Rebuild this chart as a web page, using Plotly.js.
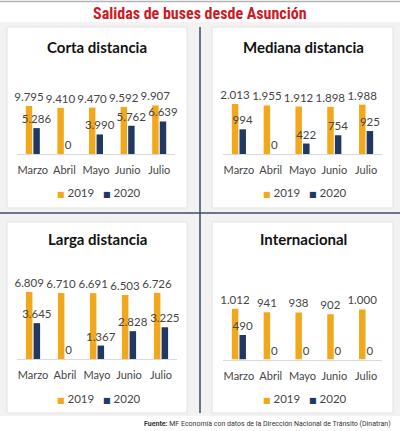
<!DOCTYPE html>
<html>
<head>
<meta charset="utf-8">
<script src="https://cdn.plot.ly/plotly-3.0.1.min.js"></script>
<style>
html,body{margin:0;padding:0;background:#fff;}
#chart{width:400px;height:431px;}
</style>
</head>
<body>
<div id="chart"></div>
<script>
// ---- data ----
const months = ['Marzo', 'Abril', 'Mayo', 'Junio', 'Julio'];
const seriesNames = ['2019', '2020'];
const panelTitles = ['Corta distancia', 'Mediana distancia', 'Larga distancia', 'Internacional'];
const corta2019 = [9795, 9410, 9470, 9592, 9907];
const corta2020 = [5286, 0, 3990, 5762, 6639];
const mediana2019 = [2013, 1955, 1912, 1898, 1988];
const mediana2020 = [994, 0, 422, 754, 925];
const larga2019 = [6809, 6710, 6691, 6503, 6726];
const larga2020 = [3645, 0, 1367, 2828, 3225];
const inter2019 = [1012, 941, 938, 902, 1000];
const inter2020 = [490, 0, 0, 0, 0];
const mainTitle = 'Salidas de buses desde Asunción';
const sourceNote = '<b>Fuente:</b> MF Economía con datos de la Dirección Nacional de Tránsito (Dinatran)';

// ---- style ----
const colors = ['#f2a81d', '#1f3864'];
const W = 400, H = 431;
const X = px => px / W;
const Y = py => 1 - py / H;
const txtFont = 'Lato, "Open Sans", sans-serif';
const txtColor = '#454545';

const panels = [
  {s19: corta2019, s20: corta2020, xd: [17, 175], base: 154, top: 90, range: 13060, cx: 97, ty: 47, ly: 193},
  {s19: mediana2019, s20: mediana2020, xd: [223, 382], base: 154, top: 90, range: 2577, cx: 303, ty: 47, ly: 193},
  {s19: larga2019, s20: larga2020, xd: [17, 177], base: 359, top: 275, range: 8537, cx: 97, ty: 239, ly: 398},
  {s19: inter2019, s20: inter2020, xd: [223, 382], base: 359.5, top: 275, range: 1686, cx: 303, ty: 239, ly: 398}
];

const traces = [];
const layout = {
  width: W, height: H,
  margin: {l: 0, r: 0, t: 0, b: 0},
  paper_bgcolor: '#ffffff',
  plot_bgcolor: 'rgba(0,0,0,0)',
  showlegend: false,
  separators: ',.',
  barmode: 'group',
  bargap: 0.52,
  bargroupgap: 0.15,
  font: {family: txtFont, color: txtColor, size: 11},
  shapes: [],
  annotations: []
};

// background decoration
layout.shapes.push({type: 'rect', xref: 'paper', yref: 'paper', x0: 0, x1: 1, y0: Y(416), y1: Y(22), fillcolor: '#f2f2f2', line: {width: 0}, layer: 'below'});
layout.shapes.push({type: 'line', xref: 'paper', yref: 'paper', x0: 0, x1: 1, y0: Y(1.5), y1: Y(1.5), line: {color: '#b3b3b3', width: 1.5}, layer: 'below'});
const boxes = [[7, 27, 187, 208], [212, 27, 393, 208], [7, 222, 187, 413], [212, 222, 393, 413]];
boxes.forEach(b => layout.shapes.push({type: 'rect', xref: 'paper', yref: 'paper', x0: X(b[0]), x1: X(b[2]), y0: Y(b[3]), y1: Y(b[1]), fillcolor: '#ffffff', line: {color: '#e2e2e2', width: 1}, layer: 'below'}));
layout.shapes.push({type: 'line', xref: 'paper', yref: 'paper', x0: X(200), x1: X(200), y0: Y(413), y1: Y(27), line: {color: '#3d4b6b', width: 1.5}, layer: 'below'});
layout.shapes.push({type: 'line', xref: 'paper', yref: 'paper', x0: 0, x1: 1, y0: Y(213), y1: Y(213), line: {color: '#3d4b6b', width: 1.5}, layer: 'below'});

panels.forEach((p, i) => {
  const n = i === 0 ? '' : String(i + 1);
  const xa = 'x' + n, ya = 'y' + n;
  [p.s19, p.s20].forEach((vals, k) => {
    traces.push({
      type: 'bar', x: months, y: vals, name: seriesNames[k],
      xaxis: xa, yaxis: ya,
      marker: {color: colors[k]},
      texttemplate: '%{y:,.0f}', textposition: 'outside',
      constraintext: 'none', cliponaxis: false,
      textfont: {family: txtFont, size: 11.5, color: txtColor},
      hoverinfo: 'skip'
    });
  });
  layout['xaxis' + n] = {
    domain: [X(p.xd[0]), X(p.xd[1])], anchor: ya,
    showline: true, linecolor: '#d9d9d9', linewidth: 1,
    showgrid: false, zeroline: false, ticks: '',
    ticklabelstandoff: 6,
    tickfont: {family: txtFont, size: 11, color: txtColor},
    fixedrange: true
  };
  layout['yaxis' + n] = {
    domain: [Y(p.base), Y(p.top)], anchor: xa,
    range: [0, p.range], visible: false, fixedrange: true
  };
  layout.annotations.push({
    xref: 'paper', yref: 'paper', x: X(p.cx), y: Y(p.ty), xanchor: 'center', yanchor: 'middle',
    text: '<b>' + panelTitles[i] + '</b>', showarrow: false,
    font: {family: txtFont, size: 15, color: '#111111'}
  });
  const sq = c => '<span style="color:' + c + ';font-family:DejaVu Sans;font-size:8px">\u25A0</span>';
  layout.annotations.push({
    xref: 'paper', yref: 'paper', x: X(p.cx + 2), y: Y(p.ly), xanchor: 'center', yanchor: 'middle',
    text: sq(colors[0]) + '\u00a0' + seriesNames[0] + '\u00a0\u00a0\u00a0' + sq(colors[1]) + '\u00a0' + seriesNames[1],
    showarrow: false, font: {family: txtFont, size: 11.5, color: txtColor}
  });
});

layout.annotations.push({
  xref: 'paper', yref: 'paper', x: 0.5, y: Y(13.5), xanchor: 'center', yanchor: 'middle',
  text: '<b>' + mainTitle + '</b>', showarrow: false,
  font: {family: '"Liberation Sans Narrow", "Roboto Condensed", Roboto, sans-serif', size: 16, color: '#cc1a25'}
});
layout.annotations.push({
  xref: 'paper', yref: 'paper', x: X(393), y: Y(424), xanchor: 'right', yanchor: 'middle',
  text: sourceNote, showarrow: false,
  font: {family: '"Liberation Sans Narrow", Roboto, sans-serif', size: 7, color: '#333333'}
});

Plotly.newPlot('chart', traces, layout, {staticPlot: true, displayModeBar: false});
</script>
</body>
</html>
